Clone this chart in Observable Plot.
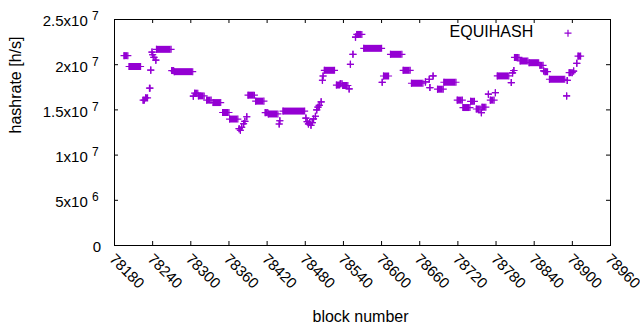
<!DOCTYPE html>
<html><head><meta charset="utf-8">
<script src="https://cdn.jsdelivr.net/npm/d3@7"></script>
<script src="https://cdn.jsdelivr.net/npm/@observablehq/plot@0.6"></script>
<style>
html,body{margin:0;padding:0;background:#fff;}
#chart svg{display:block;}
</style></head><body><div id="chart"></div>
<script>
// runs of consecutive blocks sharing the same hashrate (single blocks have start == end)
const runStart = [
  78195,78203,78225,78229,78235,78237,78239,78240,78242,78245,
  78246,78270,78274,78304,78306,78312,78325,78335,78350,78361,
  78376,78378,78380,78383,78385,78388,78390,78402,78417,78422,
  78439,78440,78445,78481,78483,78485,78487,78489,78491,78493,
  78496,78498,78500,78502,78505,78507,78508,78510,78529,78535,
  78539,78549,78551,78555,78559,78561,78572,78601,78603,78614,
  78634,78647,78669,78675,78676,78681,78688,78698,78719,78728,
  78740,78749,78757,78758,78768,78771,78779,78782,78804,78806,
  78808,78809,78818,78832,78849,78855,78857,78864,78891,78892,
  78895,78902,78907,78909];
const runEnd = [
  78201,78221,78227,78232,78236,78237,78239,78240,78242,78245,
  78269,78273,78303,78304,78311,78321,78332,78347,78360,78374,
  78376,78378,78380,78383,78385,78388,78400,78415,78421,78437,
  78439,78440,78479,78481,78483,78485,78487,78489,78491,78493,
  78496,78498,78500,78502,78505,78507,78508,78526,78534,78538,
  78547,78549,78551,78555,78559,78569,78600,78601,78611,78632,
  78645,78665,78669,78675,78676,78681,78697,78717,78727,78739,
  78746,78755,78757,78764,78768,78777,78779,78800,78804,78806,
  78808,78816,78830,78847,78854,78855,78861,78888,78891,78892,
  78900,78902,78907,78913];
const runRate = [
  2.10e7,1.98e7,1.608e7,1.633e7,1.74e7,1.94e7,2.14e7,2.11e7,2.08e7,2.05e7,
  2.17e7,1.935e7,1.923e7,1.652e7,1.685e7,1.655e7,1.608e7,1.581e7,1.471e7,1.399e7,
  1.292e7,1.275e7,1.308e7,1.347e7,1.374e7,1.424e7,1.663e7,1.597e7,1.47e7,1.455e7,
  1.344e7,1.38e7,1.487e7,1.41e7,1.37e7,1.345e7,1.36e7,1.33e7,1.36e7,1.40e7,
  1.43e7,1.50e7,1.53e7,1.55e7,1.589e7,1.828e7,1.875e7,1.938e7,1.775e7,1.79e7,
  1.77e7,1.732e7,2.004e7,2.115e7,2.305e7,2.335e7,2.181e7,1.805e7,1.875e7,2.115e7,
  1.938e7,1.795e7,1.81e7,1.839e7,1.747e7,1.876e7,1.729e7,1.806e7,1.608e7,1.526e7,
  1.595e7,1.51e7,1.47e7,1.53e7,1.674e7,1.608e7,1.69e7,1.876e7,1.802e7,1.909e7,
  1.936e7,2.08e7,2.041e7,2.022e7,1.993e7,1.931e7,1.923e7,1.839e7,1.655e7,1.826e7,
  1.912e7,1.93e7,2.015e7,2.095e7];

const xTicks = [78180,78240,78300,78360,78420,78480,78540,78600,78660,78720,78780,78840,78900,78960];
const yTicks = [0, 5e6, 1e7, 1.5e7, 2e7, 2.5e7];
const yTickMantissa = ["0", "5x10", "1x10", "1.5x10", "2x10", "2.5x10"];
const yTickExponent = ["", "6", "7", "7", "7", "7"];
const seriesName = "EQUIHASH";
const xLabel = "block number";
const yLabel = "hashrate [h/s]";
const color = "#9400d3";

const runs = runStart.map((s, i) => ({start: s, end: runEnd[i], rate: runRate[i]}));

const W = 640, H = 330, mL = 114, mR = 30, mT = 19, mB = 85;
const fw = W - mL - mR, fh = H - mT - mB, tickLen = 4;
const font = "'Liberation Sans', Arial, sans-serif";
const plusR = 2.4; // d3.symbolPlus: arm half-length ~3.5px

const chart = Plot.plot({
  width: W, height: H,
  marginLeft: mL, marginRight: mR, marginTop: mT, marginBottom: mB,
  style: {fontFamily: font, fontSize: "15px", color: "black", background: "white"},
  x: {domain: [78180, 78960], axis: null},
  y: {domain: [0, 2.5e7], axis: null},
  marks: [
    Plot.ruleY(runs, {x1: "start", x2: "end", y: "rate", stroke: color, strokeWidth: 7}),
    Plot.dot(runs, {x: "start", y: "rate", symbol: "plus", r: plusR, stroke: color, fill: "none", strokeWidth: 1.2}),
    Plot.dot(runs, {x: "end", y: "rate", symbol: "plus", r: plusR, stroke: color, fill: "none", strokeWidth: 1.2}),
    Plot.frame({stroke: "black"}),
    Plot.ruleX(xTicks, {x: d => d, insetTop: fh - tickLen, stroke: "black"}),
    Plot.ruleX(xTicks, {x: d => d, insetBottom: fh - tickLen, stroke: "black"}),
    Plot.ruleY(yTicks, {y: d => d, insetRight: fw - tickLen, stroke: "black"}),
    Plot.ruleY(yTicks, {y: d => d, insetLeft: fw - tickLen, stroke: "black"}),
    // x tick labels, rotated
    Plot.text(xTicks, {x: d => d, text: d => String(d), frameAnchor: "bottom", rotate: 45,
      textAnchor: "start", lineAnchor: "middle", dx: -2.5, dy: 11, fontSize: 15, fill: "black"}),
    // y tick labels: mantissa + superscript exponent
    Plot.text(yTicks, {filter: (d, i) => yTickExponent[i] !== "", y: d => d, text: (d, i) => yTickMantissa[i],
      frameAnchor: "left", textAnchor: "end", dx: -26.7, dy: 2.1, fontSize: 15, fill: "black"}),
    Plot.text(yTicks, {filter: (d, i) => yTickExponent[i] !== "", y: d => d, text: (d, i) => yTickExponent[i],
      frameAnchor: "left", textAnchor: "start", dx: -22.5, dy: -2.9, fontSize: 12, fill: "black"}),
    Plot.text(yTicks, {filter: (d, i) => yTickExponent[i] === "", y: d => d, text: (d, i) => yTickMantissa[i],
      frameAnchor: "left", textAnchor: "end", dx: -13.4, dy: 2.1, fontSize: 15, fill: "black"}),
    // axis titles
    Plot.text([xLabel], {text: d => d, frameAnchor: "bottom", lineAnchor: "middle", dx: -2, dy: 71, fontSize: 16, fill: "black"}),
    Plot.text([yLabel], {text: d => d, frameAnchor: "left", lineAnchor: "middle", rotate: -90, dx: -99, dy: 1, fontSize: 16, fill: "black"}),
    // legend
    Plot.text([seriesName], {text: d => d, frameAnchor: "top-right", lineAnchor: "middle", textAnchor: "end", dx: -77.3, dy: 12.7, fontSize: 16, fill: "black"}),
    Plot.dot([seriesName], {frameAnchor: "top-right", dx: -42.5, dy: 13.7, symbol: "plus", r: plusR, stroke: color, fill: "none", strokeWidth: 1.2})
  ]
});
document.getElementById("chart").appendChild(chart);
</script>
</body></html>
